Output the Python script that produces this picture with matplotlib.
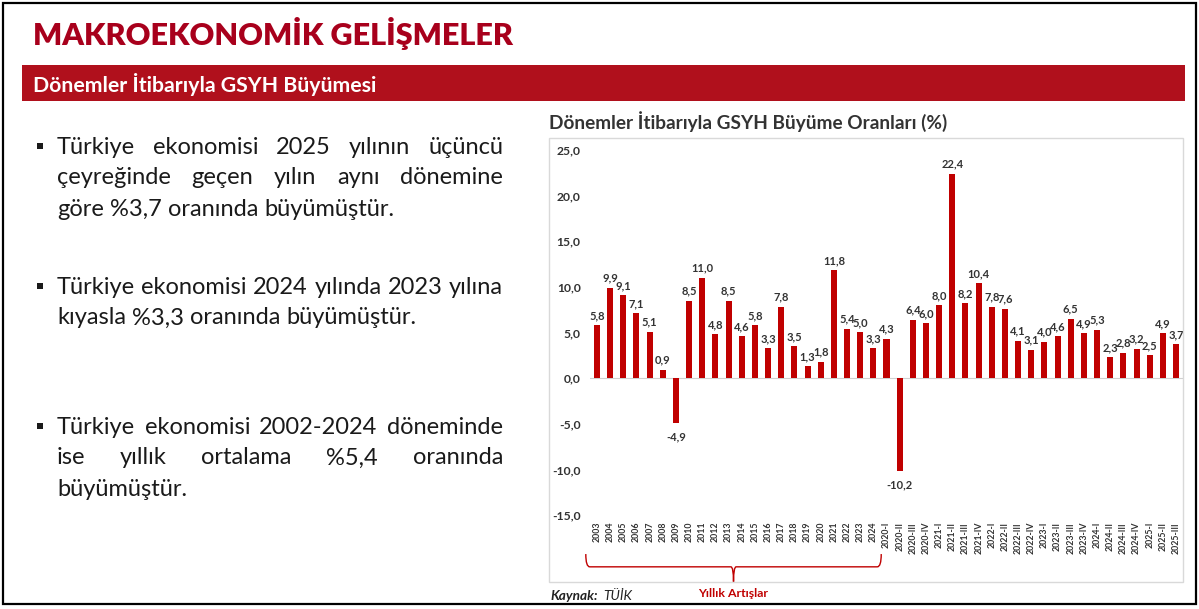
import matplotlib.pyplot as plt
import matplotlib.patches as patches
from matplotlib.path import Path
from matplotlib.ticker import FuncFormatter

W, H = 1199, 609

# data
periods = ['2003', '2004', '2005', '2006', '2007', '2008', '2009', '2010', '2011', '2012',
           '2013', '2014', '2015', '2016', '2017', '2018', '2019', '2020', '2021', '2022',
           '2023', '2024',
           '2020-I', '2020-II', '2020-III', '2020-IV', '2021-I', '2021-II', '2021-III',
           '2021-IV', '2022-I', '2022-II', '2022-III', '2022-IV', '2023-I', '2023-II',
           '2023-III', '2023-IV', '2024-I', '2024-II', '2024-III', '2024-IV', '2025-I',
           '2025-II', '2025-III']
growth = [5.8, 9.9, 9.1, 7.1, 5.1, 0.9, -4.9, 8.5, 11.0, 4.8,
          8.5, 4.6, 5.8, 3.3, 7.8, 3.5, 1.3, 1.8, 11.8, 5.4,
          5.0, 3.3,
          4.3, -10.2, 6.4, 6.0, 8.0, 22.4, 8.2,
          10.4, 7.8, 7.6, 4.1, 3.1, 4.0, 4.6,
          6.5, 4.9, 5.3, 2.3, 2.8, 3.2, 2.5,
          4.9, 3.7]
yticks = [-15, -10, -5, 0, 5, 10, 15, 20, 25]
n_yearly = 22

bullets = [
    ["Türkiye ekonomisi 2025 yılının üçüncü",
     "çeyreğinde geçen yılın aynı dönemine",
     "göre %3,7 oranında büyümüştür."],
    ["Türkiye ekonomisi 2024 yılında 2023 yılına",
     "kıyasla %3,3 oranında büyümüştür."],
    ["Türkiye ekonomisi 2002-2024 döneminde",
     "ise yıllık ortalama %5,4 oranında",
     "büyümüştür."],
]
bullet_y = [147, 287, 427]

RED = '#C00000'
DARKRED = '#A8001C'
GREY = '#333333'
FONT = 'Lato'

plt.rcParams['font.family'] = [FONT, 'DejaVu Sans']

fig = plt.figure(figsize=(W / 100, H / 100), dpi=100)
fig.patch.set_facecolor('white')
renderer = fig.canvas.get_renderer()


def fx(x):
    return x / W


def fy(y):
    return 1 - y / H


def fit_text(x, y, s, width, **kw):
    # scale font so the string spans the given pixel width
    t = fig.text(fx(x), fy(y), s, fontsize=10, va='center', **kw)
    w = t.get_window_extent(renderer).width
    t.set_fontsize(10 * width / w)
    return t


# slide border
fig.add_artist(patches.Rectangle((fx(3), fy(604)), fx(1193), 601 / H, transform=fig.transFigure,
                                 fill=False, edgecolor='black', linewidth=1.6))

# header
fit_text(33, 33, 'MAKROEKONOMİK GELİŞMELER', 482, color=DARKRED, fontweight='heavy')
fig.add_artist(patches.Rectangle((fx(22), fy(101)), fx(1163), 36 / H, transform=fig.transFigure,
                                 facecolor='#B0101C', edgecolor='none'))
fit_text(33, 84, 'Dönemler İtibarıyla GSYH Büyümesi', 345, color='white', fontweight='bold')

# bullet text, justified by hand
x0, x1 = 57, 503
probe = fig.text(0, 0, 'Türkiye ekonomisi 2024 yılında 2023 yılına', fontsize=10)
fs_body = 10 * (x1 - x0) / probe.get_window_extent(renderer).width
probe.remove()
a = fig.text(0, 0, 'x x', fontsize=fs_body)
b = fig.text(0, 0, 'xx', fontsize=fs_body)
space_w = a.get_window_extent(renderer).width - b.get_window_extent(renderer).width
a.remove()
b.remove()

for lines, y0 in zip(bullets, bullet_y):
    fig.add_artist(patches.Rectangle((fx(37), fy(y0 + 2)), fx(6), 6 / H, transform=fig.transFigure,
                                     facecolor='#1a1a1a', edgecolor='none'))
    for i, line in enumerate(lines):
        y = y0 + i * 31
        words = line.split()
        texts = [fig.text(0, fy(y), w, fontsize=fs_body, va='center', color='#1a1a1a') for w in words]
        widths = [t.get_window_extent(renderer).width for t in texts]
        last = i == len(lines) - 1
        gap = space_w if last else (x1 - x0 - sum(widths)) / (len(words) - 1)
        x = x0
        for t, w in zip(texts, widths):
            t.set_x(fx(x))
            x += w + gap

# chart frame and title
fig.add_artist(patches.Rectangle((fx(549), fy(582)), fx(634), 444 / H, transform=fig.transFigure,
                                 fill=False, edgecolor='#d9d9d9', linewidth=1))
fit_text(549, 122, 'Dönemler İtibarıyla GSYH Büyüme Oranları (%)', 399, color=GREY, fontweight='bold')

ax = fig.add_axes([fx(590.4), fy(515), fx(1182.6 - 590.4), 365 / H])
ax.patch.set_alpha(0)
xs = list(range(len(growth)))
ax.bar(xs, growth, width=0.46, color=RED, zorder=2)
ax.axhline(0, color='#d0d0d0', linewidth=0.8, zorder=1)
ax.set_xlim(-0.5, len(growth) - 0.5)
ax.set_ylim(-15, 25)
ax.set_yticks(yticks)
ax.yaxis.set_major_formatter(FuncFormatter(lambda v, p: f'{v:.1f}'.replace('.', ',')))
ax.set_xticks(xs)
ax.set_xticklabels(periods, rotation=90, fontsize=6.3, fontweight='bold', color=GREY)
ax.tick_params(axis='x', length=0, pad=5)
ax.tick_params(axis='y', length=0, pad=7, labelsize=8.7, labelcolor=GREY)
for lab in ax.get_yticklabels():
    lab.set_fontweight('bold')
for s in ax.spines.values():
    s.set_visible(False)

for x, v in zip(xs, growth):
    ax.annotate(f'{v:.1f}'.replace('.', ','), (x, v), xytext=(0, 3 if v >= 0 else -6),
                textcoords='offset points', ha='center', va='bottom' if v >= 0 else 'top',
                fontsize=8, fontweight='bold', color=GREY)

# brace under the yearly bars
tr = ax.get_xaxis_transform()
l, r = -0.85, n_yearly - 0.4
m = (l + r) / 2
ytop, ymid, ytip = -0.107, -0.142, -0.183
verts = [(l, ytop), (l, ymid), (l + 0.3, ymid),
         (m - 0.2, ymid), (m, ymid), (m, ytip),
         (m, ymid), (m + 0.2, ymid),
         (r - 0.3, ymid), (r, ymid), (r, ytop)]
codes = [Path.MOVETO, Path.CURVE3, Path.CURVE3,
         Path.LINETO, Path.CURVE3, Path.CURVE3,
         Path.CURVE3, Path.CURVE3,
         Path.LINETO, Path.CURVE3, Path.CURVE3]
ax.add_patch(patches.PathPatch(Path(verts, codes), transform=tr, fill=False,
                               edgecolor=RED, linewidth=1, clip_on=False))
ax.text(m, -0.216, 'Yıllık Artışlar', transform=tr, ha='center', va='center',
        fontsize=8.8, fontweight='bold', color=RED)

fig.text(fx(550), fy(596), 'Kaynak:', fontsize=9.8, fontweight='bold', style='italic',
         color='#222222', va='center')
fig.text(fx(603), fy(596), 'TÜİK', fontsize=9.8, style='italic', color='#222222', va='center')

fig.savefig('out.png', dpi=100)
